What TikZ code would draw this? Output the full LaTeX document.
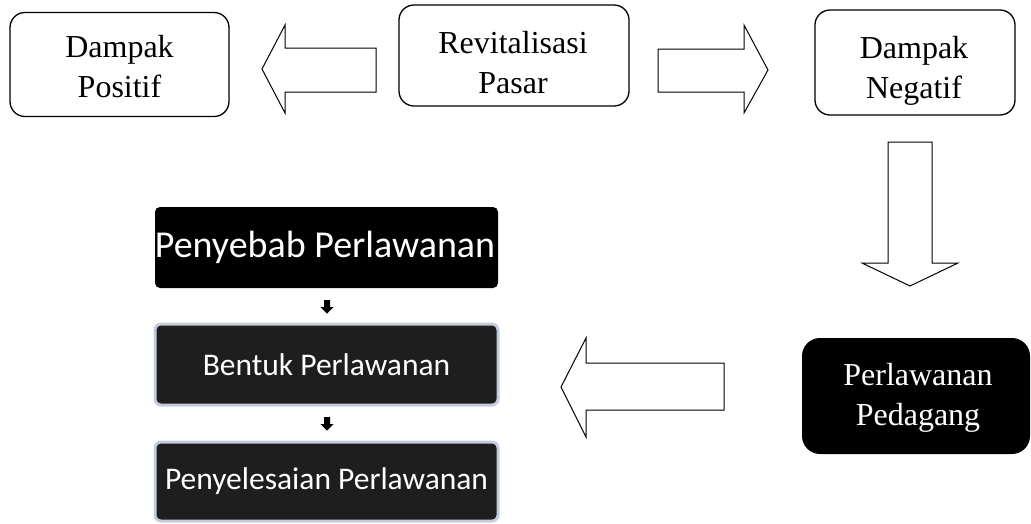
\documentclass[tikz,border=0pt]{standalone}
\usepackage{fontspec}
\setmainfont{Liberation Serif}
\newfontfamily\calib{Carlito}
\definecolor{rimblue}{HTML}{C3CBDD}
\definecolor{darkfill}{HTML}{1E1E1E}
\begin{document}
\begin{tikzpicture}[x=1pt,y=-1pt,
  topbox/.style={draw=black,line width=1.3pt,rounded corners=15pt,fill=white,inner sep=0pt},
  blackbox/.style={fill=black,rounded corners=18pt,inner sep=0pt,text=white},
  stepbox/.style={fill=darkfill,draw=rimblue,line width=3pt,rounded corners=6pt,inner sep=0pt,text=white},
  topfont/.style={font=\fontsize{32}{40}\selectfont,align=center},
  blockarrow/.style={draw=black,line width=1pt,fill=white,line join=miter},
  smallarrow/.style={fill=black,draw=none}]
\useasboundingbox (0,0) rectangle (1031,523);
\clip (0,0) rectangle (1031,523);
% top boxes
\node[topbox,minimum width=219pt,minimum height=104pt] (pos) at (119.5,64.5) {};
\node[topfont] (posT) at (119.5,67) {Dampak\\Positif};
\node[topbox,minimum width=230pt,minimum height=101pt] (rev) at (514,55.5) {};
\node[topfont] (revT) at (513,63) {Revitalisasi\\Pasar};
\node[topbox,minimum width=200pt,minimum height=105pt] (neg) at (915,62.5) {};
\node[topfont] (negT) at (914,71) {Dampak\\Negatif};
% block arrows
\draw[blockarrow] (376,48) -- (285,48) -- (285,25) -- (262,69) -- (285,113) -- (285,92) -- (376,92) -- cycle;
\draw[blockarrow] (658,49) -- (744,49) -- (744,25) -- (768,70) -- (744,113) -- (744,92) -- (658,92) -- cycle;
\draw[blockarrow] (888,142) -- (932,142) -- (932,263) -- (958,263) -- (910,286) -- (862,263) -- (888,263) -- cycle;
\draw[blockarrow] (724,363) -- (586,363) -- (586,338) -- (561,387) -- (586,437) -- (586,410) -- (724,410) -- cycle;
% perlawanan pedagang
\node[blackbox,minimum width=228pt,minimum height=116pt] (ped) at (916,396) {};
\node[topfont,text=white] (pedT) at (918,398) {Perlawanan\\Pedagang};
% left column
\node[fill=black,rounded corners=5pt,minimum width=343pt,minimum height=81pt,inner sep=0pt] (sebab) at (326.5,247.5) {};
\node[text=white,font=\calib\fontsize{38}{44}\selectfont] (sebabT) at (325,247.5) {Penyebab Perlawanan};
\node[stepbox,minimum width=343pt,minimum height=81pt] (bentuk) at (326.5,364.5) {};
\node[text=white,font=\calib\fontsize{31.5}{36}\selectfont] (bentukT) at (326.5,364.5) {Bentuk Perlawanan};
\node[stepbox,minimum width=343pt,minimum height=79pt] (selesai) at (326.5,481.5) {};
\node[text=white,font=\calib\fontsize{31.5}{36}\selectfont] (selesaiT) at (326.5,481) {Penyelesaian Perlawanan};
% small arrows
\fill[smallarrow] (324,300) -- (330,300) -- (330,307) -- (333.5,307) -- (327,313.5) -- (320.5,307) -- (324,307) -- cycle;
\fill[smallarrow] (324,417) -- (330,417) -- (330,424) -- (333.5,424) -- (327,430.5) -- (320.5,424) -- (324,424) -- cycle;
\end{tikzpicture}
\end{document}
